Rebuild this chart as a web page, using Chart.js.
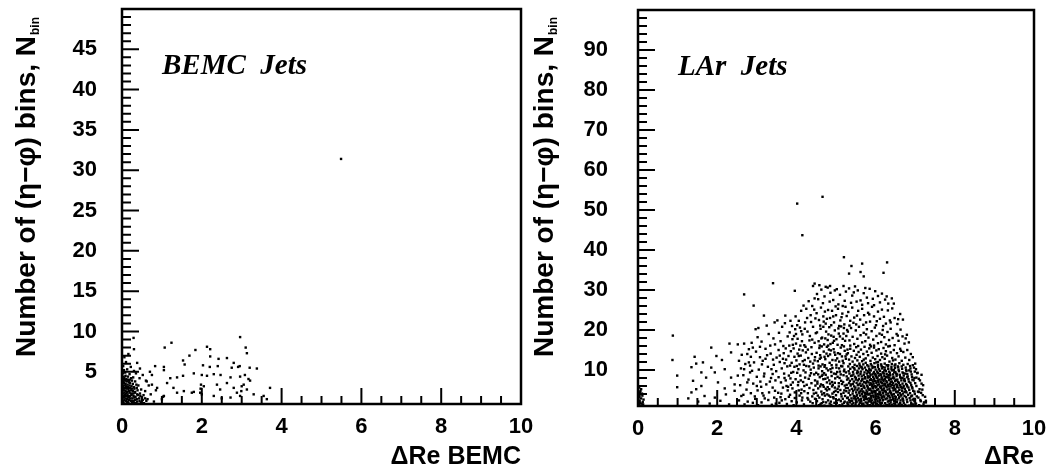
<!DOCTYPE html>
<html>
<head>
<meta charset="utf-8">
<script src="https://cdn.jsdelivr.net/npm/chart.js@4/dist/chart.umd.min.js"></script>
<style>
html, body { margin: 0; padding: 0; background: #fff; }
#wrap { position: relative; width: 1059px; height: 475px; overflow: hidden; }
canvas { position: absolute; top: 0; }
</style>
</head>
<body>
<div id="wrap">
  <canvas id="bemc" width="545" height="475" style="left:0px"></canvas>
  <canvas id="lar" width="539" height="475" style="left:520px"></canvas>
</div>
<script>
// ---- axis ticks ----
const xTickLabels = [0, 2, 4, 6, 8, 10];
const bemcYTickLabels = [5, 10, 15, 20, 25, 30, 35, 40, 45];
const larYTickLabels = [10, 20, 30, 40, 50, 60, 70, 80, 90];

// ---- BEMC jets: [ΔRe, N_bin] ----
const bemcCore = [
  [0.01,1.1],[0.04,1.2],[0.08,1.0],[0.12,1.1],[0.16,1.2],[0.2,1.0],[0.25,1.1],[0.3,1.2],[0.35,1.1],[0.41,1.0],[0.47,1.2],[0.55,1.1],
  [0.02,1.4],[0.06,1.5],[0.1,1.4],[0.14,1.3],[0.18,1.5],[0.23,1.4],[0.28,1.4],[0.33,1.5],[0.38,1.3],[0.44,1.4],[0.52,1.5],[0.61,1.4],
  [0.01,1.7],[0.05,1.8],[0.09,1.7],[0.13,1.6],[0.17,1.8],[0.21,1.7],[0.26,1.7],[0.31,1.8],[0.37,1.6],[0.43,1.7],[0.5,1.8],[0.58,1.7],
  [0.03,2.0],[0.07,2.1],[0.11,2.0],[0.15,1.9],[0.2,2.0],[0.24,2.1],[0.29,2.0],[0.34,1.9],[0.4,2.1],[0.46,2.0],[0.54,2.1],
  [0.02,2.3],[0.06,2.4],[0.1,2.3],[0.14,2.2],[0.19,2.4],[0.23,2.3],[0.28,2.3],[0.32,2.4],[0.38,2.2],[0.45,2.3],
  [0.01,2.6],[0.05,2.7],[0.09,2.6],[0.13,2.5],[0.18,2.6],[0.22,2.7],[0.27,2.6],[0.33,2.5],[0.39,2.7],
  [0.03,2.9],[0.07,3.0],[0.11,2.9],[0.16,2.8],[0.2,3.0],[0.25,2.9],[0.31,2.9],[0.37,3.0],[0.48,2.8],
  [0.02,3.2],[0.06,3.3],[0.1,3.2],[0.15,3.1],[0.19,3.3],[0.24,3.2],[0.3,3.1],[0.41,3.3],
  [0.01,3.5],[0.05,3.6],[0.09,3.5],[0.14,3.4],[0.2,3.6],[0.27,3.5],[0.36,3.4],
  [0.03,3.8],[0.07,3.9],[0.12,3.8],[0.18,3.7],[0.25,3.9],[0.33,3.8],
  [0.02,4.1],[0.06,4.2],[0.11,4.1],[0.17,4.0],[0.23,4.2],
  [0.04,4.4],[0.09,4.5],[0.15,4.4],[0.28,4.3],
  [0.02,4.8],[0.08,4.9],[0.19,4.7],[0.35,4.8],
  [0.05,5.2],[0.13,5.3],[0.3,5.1],
  [0.03,5.7],[0.22,5.6],[0.1,6.2],[0.06,6.8]
];
const bemcSpread = [
  [0.29,9.2],[0.3,7.8],[0.45,5.4],[0.52,4.6],[0.6,3.9],[0.67,3.3],[0.58,2.6],[0.72,2.2],[0.64,1.6],[0.8,1.3],
  [0.7,5.0],[0.85,2.7],[0.38,6.1],[0.16,7.2],[0.44,4.2],
  [1.07,8.0],[1.24,8.6],[1.84,7.7],[2.13,8.1],[2.21,7.8],[2.96,9.3],[3.1,8.0],[3.13,7.3],[1.69,7.0],[2.21,6.9],
  [2.42,6.6],[2.63,6.7],[2.8,6.1],[1.53,6.4],[1.57,5.9],[2.03,5.8],[2.2,5.6],[2.4,5.7],[2.75,5.5],[2.91,5.6],
  [2.95,5.7],[3.2,5.5],[3.38,5.4],[0.83,5.7],[1.05,5.6],[0.75,4.6],[1.05,5.2],[1.21,4.2],[1.38,4.3],[1.53,4.5],
  [1.8,4.8],[2.0,4.6],[2.13,4.5],[2.3,4.7],[2.47,4.6],[2.72,4.3],[2.96,4.4],[3.08,4.6],[3.17,4.1],[0.62,3.8],
  [0.75,3.4],[0.88,3.0],[1.13,3.6],[1.29,3.0],[1.55,2.6],[1.8,2.5],[2.05,3.2],[2.0,2.2],[2.38,3.4],[2.46,2.8],
  [2.63,3.6],[2.8,3.0],[2.88,2.4],[3.05,3.4],[3.13,2.8],[3.21,3.9],[2.3,2.0],[2.72,1.8],[2.96,2.0],[3.3,2.2],
  [3.55,2.0],[3.71,3.0],[1.05,2.0],[1.38,2.4],[1.75,2.4],[2.5,1.7],[3.63,1.6],[1.97,2.9],[1.98,3.4],[1.96,2.4],
  [2.99,2.6],[3.0,3.2],[1.0,1.6],[1.03,1.9],
  [5.49,31.4]
];

// ---- LAr jets: [ΔRe, N_bin] ----
const larAtZero = [
  [0.02,1.3],[0.05,1.8],[0.03,2.4],[0.08,2.9],[0.04,3.5],[0.1,4.1],[0.06,4.8],[0.03,5.6],[0.12,2.0],[0.07,1.1],
  [0.02,3.1],[0.11,3.6],[0.05,4.4],[0.09,1.6],[0.14,2.6],[0.04,2.2],[0.08,5.2],[0.13,1.4]
];
const larSparse = [
  [1.43,13.3],[1.35,10.7],[1.47,11.6],[1.6,9.4],[1.64,11.9],[1.39,7.3],[1.47,5.2],[1.35,4.4],[1.6,6.0],[1.72,8.1],
  [1.85,10.6],[1.98,13.5],[1.85,15.6],[1.94,9.4],[2.02,6.9],[2.12,12.5],[2.19,10.2],[2.31,16.6],[2.35,14.4],[2.35,8.1],
  [2.44,6.4],[2.19,5.4],[1.68,3.5],[1.94,3.1],[2.22,3.9],[2.52,16.4],[2.68,16.6],[2.55,12.3],[2.68,10.2],[2.76,14.0],
  [2.52,8.6],[2.44,4.8],[2.61,3.5],[2.76,6.9],[2.87,16.8],[2.83,9.4],[2.9,15.6],[2.85,13.3],[2.8,11.9],[1.52,2.1],
  [1.81,1.6],[2.08,2.3],[2.3,1.4],[1.27,2.9],
  [2.97,20.2],[3.04,20.5],[3.02,18.2],[3.3,19.0],[3.45,21.9],[3.12,17.1],[3.22,15.3],[2.98,14.6],[3.08,13.2],[3.35,14.1],
  [3.46,16.4],[2.62,13.8],[2.71,11.5],[2.93,11.9],[3.15,12.3],[3.28,10.8],[3.41,12.6],[3.05,10.1],[2.88,9.8],[2.66,8.7],
  [2.79,7.6],[3.0,8.3],[3.19,9.1],[3.36,8.0],[3.49,9.7],[2.58,6.2],[2.74,5.1],[2.91,6.6],[3.09,7.1],[3.24,6.4],
  [3.4,5.6],[3.47,7.4],[2.66,3.8],[2.85,4.2],[3.02,4.9],[3.17,3.6],[3.31,4.4],[3.44,3.1],[2.55,2.4],[2.77,2.1],
  [2.96,2.8],[3.12,1.9],[3.29,2.5],[3.48,1.6],[2.69,1.4],[3.03,1.2],[3.38,1.3],[2.83,11.1],[3.13,11.4],[3.26,13.7],
  [3.43,11.3],[3.33,7.1],[3.11,5.8],[2.95,3.4],[3.2,2.9],[3.46,4.8],[3.37,10.2],[3.08,15.8],[3.42,17.9],[3.25,21.1],
  [2.8,15.2],[3.18,8.4],[3.5,13.1],[2.6,10.4],[3.0,6.0],[3.34,16.1],[3.14,4.2],[2.9,1.8],[3.4,9.0],[3.22,12.8]
];
const larMid = [
  [3.52,22.4],[3.64,20.8],[3.72,23.6],[3.71,21.7],[3.83,19.4],[3.97,20.2],[3.99,19.0],[4.06,22.3],[4.12,24.8],[4.18,26.1],
  [4.25,25.3],[4.31,27.2],[4.4,26.0],[4.46,27.9],[4.36,23.7],[4.22,21.9],[4.09,20.6],[3.9,17.7],[3.78,18.4],[3.6,17.2],
  [3.55,15.0],[3.68,14.2],[3.82,16.1],[3.93,15.4],[4.03,17.8],[4.15,18.9],[4.28,19.6],[4.42,20.8],[4.48,22.9],[4.33,17.4],
  [4.2,16.2],[4.07,15.1],[3.95,13.3],[3.86,14.7],[3.74,12.6],[3.58,12.0],[3.63,10.4],[3.77,10.9],[3.88,11.8],[4.0,12.4],
  [4.11,13.6],[4.24,14.4],[4.38,15.7],[4.47,13.2],[4.35,12.1],[4.19,11.3],[4.05,10.2],[3.92,9.5],[3.81,8.6],[3.69,9.1],
  [3.55,8.2],[3.61,6.9],[3.73,7.4],[3.86,6.3],[3.98,7.7],[4.1,8.6],[4.23,9.4],[4.36,10.1],[4.45,8.9],[4.31,7.8],
  [4.17,7.0],[4.04,6.2],[3.9,5.4],[3.78,4.9],[3.66,5.6],[3.54,4.3],[3.6,3.2],[3.72,2.7],[3.84,3.8],[3.96,4.4],
  [4.08,3.6],[4.2,4.7],[4.33,5.5],[4.44,4.1],[4.28,3.0],[4.14,2.4],[4.01,1.9],[3.88,2.2],[3.76,1.5],[3.57,1.8],
  [3.93,1.2],[4.19,1.4],[4.41,1.7],[4.47,2.8],[4.26,6.3],[4.13,5.1],[3.95,10.8],[4.42,11.6],[4.3,13.0],[4.16,14.9],
  [3.8,13.5],[3.67,16.0],[4.08,11.4],[3.85,7.9],[4.38,6.7],[4.22,8.1],[4.02,9.3],[3.75,6.0],[4.46,16.8],[4.34,18.5],
  [4.12,19.7],[4.27,23.0],[4.45,25.1],[3.98,23.4],[3.89,21.0],[4.39,14.0],[4.25,11.0],[3.58,13.6],[3.99,16.6],[4.15,3.1],
  [3.81,3.3],[4.35,2.1],[4.06,4.9],[3.7,11.7],[4.21,12.5],[4.44,10.6],[4.1,16.1],[3.94,18.5],[4.49,19.2],[4.18,9.9],
  [3.63,2.4],[4.29,4.2],[4.4,3.4],[3.91,6.9],[4.03,14.1],[4.48,6.1],[4.37,9.2],[4.11,7.4],
  [3.62,4.1],[3.79,5.8],[3.96,3.0],[4.12,4.2],[4.3,2.6],[4.43,5.0],[3.7,8.0],[3.87,9.3],[4.05,7.0],[4.2,6.0],
  [4.34,8.6],[4.47,7.4],[3.66,12.8],[3.84,11.1],[4.01,11.0],[4.16,12.2],[4.32,10.9],[4.46,12.4],[3.73,15.4],[3.91,16.3],
  [4.06,13.5],[4.23,15.8],[4.4,17.6],[3.85,22.3],[4.02,21.2],[4.21,20.3],[4.37,22.0],[4.14,17.2],[3.56,19.3],[4.29,15.1],
  [4.52,29.0],[4.58,31.2],[4.63,30.1],[4.71,28.4],[4.79,30.6],[4.86,29.3],[4.93,27.5],[5.02,30.2],[5.1,28.8],[5.19,31.0],
  [5.25,29.6],[4.67,26.7],[4.84,27.1],[5.06,26.4],[5.22,27.3],[4.55,27.7],[4.97,29.9],
  [4.51,24.2],[4.57,22.5],[4.62,25.6],[4.68,23.4],[4.74,21.6],[4.8,25.0],[4.85,23.0],[4.9,24.8],[4.95,21.9],[5.0,23.7],
  [5.05,25.3],[5.11,22.4],[5.16,24.1],[5.21,21.4],[5.27,23.5],[4.6,21.1],[4.77,22.8],[4.88,21.2],[5.08,21.0],[5.24,25.8],
  [4.99,25.9],[4.72,24.6],[5.14,23.2],[4.69,22.1],[4.93,23.4],[5.17,26.0],
  [4.52,19.4],[4.56,17.2],[4.61,20.3],[4.65,18.1],[4.7,16.4],[4.75,19.6],[4.79,17.5],[4.83,20.7],[4.88,18.6],[4.92,16.8],
  [4.97,19.9],[5.01,17.7],[5.06,20.4],[5.1,18.4],[5.15,16.2],[5.19,19.1],[5.23,17.3],[5.28,20.0],[4.59,16.1],[4.68,20.8],
  [4.86,16.5],[5.04,16.3],[5.13,20.9],[5.26,18.5],[4.81,18.9],[4.95,17.3],[4.73,17.9],[5.17,17.8],
  [4.63,17.9],[4.8,16.1],[4.94,18.3],[5.07,19.1],[5.2,20.5],
  [4.51,14.3],[4.54,12.2],[4.58,15.5],[4.62,13.1],[4.66,11.4],[4.69,14.6],[4.73,12.7],[4.77,15.8],[4.8,13.5],[4.84,11.8],
  [4.87,14.9],[4.91,12.5],[4.94,15.2],[4.98,13.8],[5.01,11.3],[5.05,14.2],[5.08,12.1],[5.12,15.6],[5.15,13.4],[5.19,11.7],
  [5.22,14.8],[5.25,12.8],[5.29,15.1],[4.56,11.1],[4.64,15.9],[4.71,13.3],[4.82,15.1],[4.89,11.2],[4.96,14.4],[5.03,12.9],
  [5.1,14.0],[5.17,12.3],[5.27,13.9],[4.6,13.7],[4.76,14.1],[5.2,15.9],
  [4.59,12.8],[4.72,11.2],[4.85,13.9],[4.99,12.4],[5.13,11.0],[5.24,13.4],
  [4.5,9.3],[4.53,7.1],[4.56,10.4],[4.59,8.2],[4.62,6.4],[4.65,9.7],[4.68,7.7],[4.71,10.8],[4.74,8.8],[4.77,6.9],
  [4.8,9.9],[4.83,7.4],[4.86,10.2],[4.89,8.5],[4.92,6.3],[4.95,9.1],[4.98,7.9],[5.01,10.6],[5.04,8.3],[5.07,6.7],
  [5.1,9.6],[5.13,7.3],[5.16,10.9],[5.19,8.7],[5.22,6.1],[5.25,9.4],[5.28,7.6],[4.55,8.9],[4.61,10.9],[4.67,6.2],
  [4.73,7.8],[4.79,8.1],[4.85,6.6],[4.91,10.5],[4.97,6.8],[5.03,9.5],[5.09,8.0],[5.15,6.5],[5.21,10.1],[5.27,8.4],
  [4.64,8.5],[4.88,9.5],[5.12,8.9],[4.7,9.2],[5.18,7.0],
  [4.53,6.6],[4.66,8.8],[4.76,10.4],[4.9,7.0],[5.0,9.0],[5.08,10.4],[5.2,9.7],[5.27,6.3],
  [4.5,4.3],[4.52,2.2],[4.55,5.4],[4.58,3.1],[4.61,1.5],[4.63,4.6],[4.66,2.7],[4.69,5.8],[4.72,3.6],[4.75,1.9],
  [4.77,4.9],[4.8,2.4],[4.83,5.2],[4.86,3.3],[4.88,1.3],[4.91,4.1],[4.94,2.9],[4.97,5.6],[5.0,3.7],[5.02,1.7],
  [5.05,4.5],[5.08,2.6],[5.11,5.0],[5.14,3.4],[5.16,1.4],[5.19,4.3],[5.22,2.1],[5.25,5.5],[5.28,3.0],[4.57,1.2],
  [4.65,3.9],[4.71,1.1],[4.78,3.9],[4.84,1.6],[4.9,5.9],[4.96,1.8],[5.03,2.4],[5.09,1.2],[5.13,4.0],[5.2,1.8],
  [5.26,4.7],[4.6,5.9],[4.74,5.3],[4.82,3.6],[4.99,4.8],[5.07,5.9],[5.17,2.8],[5.23,3.5],[4.68,2.0],[4.93,3.2],
  [4.54,3.6],[4.64,1.7],[4.7,4.2],[4.79,5.7],[4.87,2.1],[4.95,4.5],[5.04,5.3],[5.12,2.2],[5.21,4.9],[5.29,1.9]
];
const larUpper = [
  [5.33,30.4],[5.41,28.6],[5.48,30.9],[5.55,29.9],[5.62,27.4],[5.7,29.2],[5.78,28.1],[5.85,30.3],[5.93,27.8],[5.99,29.7],
  [6.06,28.5],[6.16,29.1],[6.24,27.6],[6.32,26.6],[6.41,27.9],[6.46,26.6],[5.38,26.8],[5.52,27.1],[5.66,26.3],[5.81,26.7],
  [5.96,26.2],[6.11,26.9],[6.28,28.4],[5.45,29.4],[5.74,30.5],
  [5.31,24.5],[5.36,22.3],[5.41,25.6],[5.46,23.1],[5.51,21.4],[5.56,24.8],[5.61,22.6],[5.66,25.3],[5.71,23.7],[5.76,21.9],
  [5.81,24.3],[5.86,22.1],[5.91,25.8],[5.96,23.4],[6.01,21.2],[6.06,24.6],[6.11,22.8],[6.16,25.1],[6.21,23.3],[6.26,21.6],
  [6.31,24.9],[6.36,22.4],[6.42,25.4],[6.48,23.0],[6.55,21.5],[6.62,24.0],[6.69,22.6],[5.34,21.1],[5.53,23.6],[5.69,21.3],
  [5.84,23.9],[6.03,22.2],[6.19,21.0],[6.38,21.9],[6.57,22.7],[5.44,21.8],
  [5.3,19.6],[5.34,17.4],[5.38,20.5],[5.42,18.3],[5.46,16.5],[5.5,19.9],[5.54,17.8],[5.58,20.8],[5.62,18.7],[5.66,16.9],
  [5.7,19.3],[5.74,17.2],[5.78,20.2],[5.82,18.1],[5.86,16.3],[5.9,19.7],[5.94,17.6],[5.98,20.6],[6.02,18.5],[6.06,16.7],
  [6.1,19.1],[6.14,17.0],[6.18,20.0],[6.22,18.2],[6.26,16.4],[6.3,19.5],[6.34,17.5],[6.38,20.3],[6.43,18.0],[6.48,16.2],
  [6.53,19.0],[6.58,17.3],[6.63,20.1],[6.68,18.4],[6.73,16.6],[6.79,18.8],[6.84,16.9],[5.36,16.1],[5.56,16.0],[5.76,18.9],
  [5.96,16.1],[6.16,18.8],[6.36,16.0],[6.56,18.6],[6.76,17.9],
  [5.3,14.2],[5.33,12.6],[5.36,15.3],[5.39,13.4],[5.42,12.1],[5.45,14.8],[5.48,13.0],[5.51,15.7],[5.54,12.4],[5.57,14.5],
  [5.6,13.3],[5.63,15.1],[5.66,12.2],[5.69,14.0],[5.72,15.8],[5.75,12.9],[5.78,14.6],[5.81,13.7],[5.84,15.4],[5.87,12.3],
  [5.9,14.3],[5.93,13.1],[5.96,15.6],[5.99,12.7],[6.02,14.9],[6.05,13.5],[6.08,15.2],[6.11,12.5],[6.14,14.1],[6.17,13.2],
  [6.2,15.5],[6.23,12.8],[6.26,14.7],[6.29,13.6],[6.32,15.9],[6.35,12.1],[6.38,14.4],[6.42,13.0],[6.46,15.0],[6.5,12.6],
  [6.54,14.2],[6.58,13.4],[6.62,15.3],[6.66,12.3],[6.7,14.5],[6.75,13.1],[6.8,15.0],[6.85,12.5],[6.89,14.0],[5.52,13.8],
  [5.7,12.6],[5.88,15.9],[6.06,12.0],[6.24,13.9],[6.44,12.4],[6.64,14.8]
];
const larCore = [
  [5.31,1.2],[5.4,1.4],[5.47,1.1],[5.58,1.3],[5.66,1.5],[5.72,1.1],[5.8,1.3],[5.86,1.2],[5.93,1.5],[5.99,1.0],[6.07,1.3],[6.13,1.4],[6.2,1.1],[6.27,1.2],[6.35,1.5],[6.41,1.3],[6.5,1.1],[6.58,1.4],[6.66,1.2],[6.75,1.3],[6.84,1.1],[6.95,1.4],[7.1,1.2],
  [5.35,1.9],[5.44,1.7],[5.52,2.0],[5.6,1.8],[5.69,1.6],[5.75,1.9],[5.82,2.1],[5.9,1.7],[5.96,1.9],[6.03,1.6],[6.1,2.0],[6.16,1.8],[6.24,1.7],[6.31,2.1],[6.38,1.9],[6.46,1.6],[6.54,2.0],[6.62,1.8],[6.71,1.7],[6.8,2.0],[6.9,1.8],[7.02,1.6],[7.22,1.9],
  [5.33,2.5],[5.41,2.3],[5.5,2.6],[5.57,2.4],[5.64,2.2],[5.71,2.5],[5.78,2.7],[5.84,2.3],[5.91,2.4],[5.98,2.6],[6.05,2.2],[6.11,2.5],[6.18,2.4],[6.25,2.7],[6.33,2.3],[6.4,2.5],[6.47,2.2],[6.55,2.6],[6.63,2.4],[6.7,2.3],[6.79,2.6],[6.88,2.4],[6.98,2.2],[7.13,2.5],[7.27,2.3],
  [5.3,3.1],[5.39,2.9],[5.48,3.2],[5.55,3.0],[5.63,2.8],[5.7,3.1],[5.76,3.3],[5.83,2.9],[5.89,3.0],[5.95,3.2],[6.02,2.8],[6.08,3.1],[6.15,3.0],[6.22,3.3],[6.29,2.9],[6.36,3.1],[6.44,2.8],[6.51,3.2],[6.59,3.0],[6.68,2.9],[6.77,3.2],[6.86,3.0],[6.97,2.8],[7.08,3.1],
  [5.36,3.7],[5.45,3.5],[5.53,3.8],[5.61,3.6],[5.68,3.4],[5.74,3.7],[5.81,3.9],[5.88,3.5],[5.94,3.6],[6.0,3.8],[6.06,3.4],[6.13,3.7],[6.2,3.6],[6.27,3.9],[6.34,3.5],[6.42,3.7],[6.49,3.4],[6.57,3.8],[6.65,3.6],[6.73,3.5],[6.82,3.8],[6.92,3.6],[7.04,3.4],[7.19,3.7],
  [5.32,4.3],[5.42,4.1],[5.51,4.4],[5.59,4.2],[5.66,4.0],[5.73,4.3],[5.79,4.5],[5.86,4.1],[5.92,4.2],[5.99,4.4],[6.05,4.0],[6.12,4.3],[6.19,4.2],[6.26,4.5],[6.32,4.1],[6.39,4.3],[6.46,4.0],[6.53,4.4],[6.61,4.2],[6.69,4.1],[6.78,4.4],[6.87,4.2],[6.99,4.0],[7.15,4.3],
  [5.34,4.9],[5.43,4.7],[5.54,5.0],[5.62,4.8],[5.69,4.6],[5.77,4.9],[5.84,5.1],[5.9,4.7],[5.97,4.8],[6.04,5.0],[6.1,4.6],[6.17,4.9],[6.23,4.8],[6.3,5.1],[6.37,4.7],[6.45,4.9],[6.52,4.6],[6.6,5.0],[6.67,4.8],[6.76,4.7],[6.85,5.0],[6.95,4.8],[7.07,4.6],
  [5.3,5.5],[5.4,5.3],[5.49,5.6],[5.57,5.4],[5.65,5.2],[5.72,5.5],[5.8,5.7],[5.87,5.3],[5.93,5.4],[6.0,5.6],[6.07,5.2],[6.14,5.5],[6.21,5.4],[6.28,5.7],[6.35,5.3],[6.43,5.5],[6.5,5.2],[6.58,5.6],[6.66,5.4],[6.74,5.3],[6.83,5.6],[6.93,5.4],[7.11,5.2],
  [5.37,6.1],[5.46,5.9],[5.55,6.2],[5.63,6.0],[5.7,5.8],[5.78,6.1],[5.85,6.3],[5.91,5.9],[5.98,6.0],[6.05,6.2],[6.11,5.8],[6.18,6.1],[6.25,6.0],[6.31,6.3],[6.38,5.9],[6.46,6.1],[6.54,5.8],[6.62,6.2],[6.71,6.0],[6.8,5.9],[6.9,6.2],[7.03,6.0],
  [5.33,6.7],[5.43,6.5],[5.52,6.8],[5.6,6.6],[5.67,6.4],[5.75,6.7],[5.82,6.9],[5.89,6.5],[5.95,6.6],[6.02,6.8],[6.09,6.4],[6.16,6.7],[6.22,6.6],[6.29,6.9],[6.36,6.5],[6.44,6.7],[6.51,6.4],[6.59,6.8],[6.68,6.6],[6.77,6.5],[6.88,6.8],[7.16,6.6],
  [5.35,7.3],[5.45,7.1],[5.56,7.4],[5.64,7.2],[5.71,7.0],[5.79,7.3],[5.86,7.5],[5.93,7.1],[6.0,7.2],[6.06,7.4],[6.13,7.0],[6.2,7.3],[6.27,7.2],[6.34,7.5],[6.41,7.1],[6.49,7.3],[6.57,7.0],[6.65,7.4],[6.74,7.2],[6.84,7.1],[6.96,7.4],
  [5.31,7.9],[5.41,7.7],[5.5,8.0],[5.58,7.8],[5.66,7.6],[5.74,7.9],[5.81,8.1],[5.88,7.7],[5.96,7.8],[6.03,8.0],[6.1,7.6],[6.17,7.9],[6.24,7.8],[6.32,8.1],[6.39,7.7],[6.47,7.9],[6.55,7.6],[6.64,8.0],[6.73,7.8],[6.83,7.7],[6.98,8.0],[7.09,7.8],
  [5.38,8.5],[5.48,8.3],[5.57,8.6],[5.65,8.4],[5.73,8.2],[5.8,8.5],[5.87,8.7],[5.94,8.3],[6.01,8.4],[6.08,8.6],[6.15,8.2],[6.22,8.5],[6.3,8.4],[6.37,8.7],[6.45,8.3],[6.53,8.5],[6.62,8.2],[6.71,8.6],[6.81,8.4],[6.92,8.3],
  [5.34,9.1],[5.44,8.9],[5.53,9.2],[5.62,9.0],[5.7,8.8],[5.78,9.1],[5.85,9.3],[5.92,8.9],[5.99,9.0],[6.06,9.2],[6.14,8.8],[6.21,9.1],[6.28,9.0],[6.36,9.3],[6.44,8.9],[6.52,9.1],[6.61,8.8],[6.7,9.2],[6.8,9.0],[6.91,8.9],[7.05,9.2],
  [5.32,9.7],[5.43,9.5],[5.54,9.8],[5.63,9.6],[5.72,9.4],[5.8,9.7],[5.88,9.9],[5.96,9.5],[6.04,9.6],[6.11,9.8],[6.19,9.4],[6.26,9.7],[6.34,9.6],[6.42,9.9],[6.5,9.5],[6.59,9.7],[6.68,9.4],[6.78,9.8],[6.89,9.6],
  [5.36,10.3],[5.47,10.1],[5.58,10.4],[5.67,10.2],[5.76,10.0],[5.84,10.3],[5.92,10.5],[6.0,10.1],[6.08,10.2],[6.16,10.4],[6.24,10.0],[6.32,10.3],[6.4,10.2],[6.49,10.5],[6.58,10.1],[6.67,10.3],[6.77,10.0],[6.88,10.4],[7.02,10.2],
  [5.31,10.9],[5.42,10.7],[5.53,11.0],[5.64,10.8],[5.73,10.6],[5.82,10.9],[5.9,11.1],[5.98,10.7],[6.06,10.8],[6.15,11.0],[6.23,10.6],[6.31,10.9],[6.4,10.8],[6.48,11.1],[6.57,10.7],[6.66,10.9],[6.76,10.6],[6.87,11.0],
  [5.35,11.5],[5.47,11.3],[5.59,11.6],[5.69,11.4],[5.79,11.2],[5.88,11.5],[5.97,11.7],[6.06,11.3],[6.14,11.4],[6.23,11.6],[6.32,11.2],[6.41,11.5],[6.5,11.4],[6.6,11.7],[6.7,11.3],[6.81,11.5],[6.94,11.2],
  [5.62,2.0],[5.74,2.8],[5.88,2.1],[6.01,3.4],[6.19,2.6],[6.31,3.5],[6.45,2.7],[6.6,3.3],[5.67,4.6],[5.83,3.9],
  [5.96,4.6],[6.09,3.9],[6.24,4.7],[6.4,3.9],[6.56,4.6],[5.7,5.9],[5.85,5.0],[6.02,5.8],[6.16,5.1],[6.33,5.9],
  [6.48,5.1],[6.64,5.8],[5.77,7.0],[5.92,6.3],[6.07,7.0],[6.23,6.3],[6.38,7.0],[6.55,6.3],[5.73,8.0],[5.9,7.5],
  [6.05,8.1],[6.2,7.5],[6.35,8.1],[6.52,7.5],[6.68,8.0],[6.0,8.8],[6.18,9.4],[6.33,8.7],[6.47,9.4],[5.82,9.5],
  [5.29,1.6],[5.37,2.2],[5.45,2.9],[5.52,3.5],[5.59,4.5],[5.47,5.1],[5.38,6.4],[5.5,7.6],[5.41,8.6],[5.56,9.4],
  [5.46,10.5],[5.6,11.1],[5.68,1.2],[5.79,1.7],[5.73,3.5],[5.86,2.6],[5.78,4.0],[5.91,4.4],[5.81,5.4],[5.94,5.8],
  [5.87,6.7],[5.97,7.3],[5.85,8.3],[5.95,9.2],[5.86,10.0],[5.94,10.8],[6.04,1.1],[6.12,1.7],[6.07,2.9],[6.16,3.3],
  [6.1,4.4],[6.2,4.9],[6.13,5.9],[6.24,6.5],[6.15,7.6],[6.26,8.2],[6.12,9.0],[6.22,9.9],[6.18,10.7],[6.3,1.3],
  [6.37,2.4],[6.43,3.3],[6.36,4.5],[6.47,5.6],[6.41,6.3],[6.5,7.2],[6.43,8.0],[6.54,8.9],[6.46,10.0],[6.56,10.9],
  [6.62,1.6],[6.69,2.7],[6.64,3.8],[6.73,4.5],[6.7,5.6],[6.79,6.2],[6.72,7.4],[6.8,8.2],[6.75,9.1],[6.85,9.9],
  [6.9,1.4],[6.94,2.6],[6.9,3.4],[6.98,4.6],[6.92,5.7],[7.0,6.7],[6.93,7.6],[6.99,9.6],[5.6,2.6],[5.67,7.7],
  [5.57,6.3],[5.65,10.6],[6.28,11.2],[5.75,11.8],[6.02,11.9]
];
const larEdge = [
  [7.21,1.4],[7.25,3.3],[7.18,5.1],[7.12,7.4],[7.06,9.3],[7.0,11.6],[6.94,13.2],[7.14,2.2],[7.09,4.5],[7.2,6.2],
  [7.03,8.1],[6.97,10.6],[7.27,1.9],[7.16,8.8]
];
const larOutliers = [
  [4.02,51.6],[4.66,53.3],[4.15,43.7],[5.2,38.2],[5.39,36.0],[5.33,34.1],[5.66,36.6],[5.62,34.5],[5.7,33.4],[6.29,36.9],
  [6.2,34.3],[3.41,31.7],[2.68,28.9],[2.92,26.1],[3.18,23.6],[3.96,29.8],[4.46,31.6],[4.42,31.0],[4.74,30.8],[4.85,31.0],
  [0.88,18.6],[0.87,12.5],[0.99,8.6],[0.99,5.7]
];

const SANS = '"Liberation Sans", Arial, sans-serif';
const SERIF = '"Liberation Serif", "Times New Roman", serif';

// Frame, inward tick marks, rotated y title and the panel caption
const framePlugin = {
  id: 'frame',
  afterDatasetsDraw(chart, args, o) {
    const { ctx, chartArea: a, scales: { x, y } } = chart;
    ctx.save();
    ctx.strokeStyle = '#000';
    ctx.lineWidth = 2;
    ctx.beginPath();
    x.ticks.forEach(t => {
      const px = x.getPixelForValue(t.value);
      const len = t.value % 2 === 0 ? 16 : 8;
      ctx.moveTo(px, a.bottom);
      ctx.lineTo(px, a.bottom - len);
    });
    y.ticks.forEach(t => {
      if (t.value % o.yMinor !== 0 || t.value === y.min) return;
      const py = y.getPixelForValue(t.value);
      const len = t.value % o.yMajor === 0 ? 17 : 9;
      ctx.moveTo(a.left, py);
      ctx.lineTo(a.left + len, py);
    });
    ctx.stroke();
    ctx.lineWidth = 2.5;
    ctx.strokeRect(a.left, a.top, a.right - a.left, a.bottom - a.top);

    // y-axis title, written bottom to top
    ctx.fillStyle = '#000';
    ctx.translate(o.titleX, o.titleY);
    ctx.rotate(-Math.PI / 2);
    ctx.textAlign = 'left';
    ctx.textBaseline = 'alphabetic';
    ctx.font = 'bold 28px ' + SANS;
    const main = 'Number of (η−φ) bins, N';
    ctx.fillText(main, 0, 0);
    const w = ctx.measureText(main).width;
    ctx.font = 'bold 12px ' + SANS;
    ctx.fillText('bin', w + 1, 4);
    ctx.setTransform(1, 0, 0, 1, 0, 0);

    // panel caption
    ctx.font = 'italic bold 29px ' + SERIF;
    ctx.fillText(o.caption, a.left + 40, a.top + 65);
    ctx.restore();
  }
};

function makeChart(id, points, cfg) {
  return new Chart(document.getElementById(id), {
    type: 'scatter',
    data: {
      datasets: [{
        data: points.map(p => ({ x: p[0], y: p[1] })),
        pointStyle: 'rect',
        pointRadius: 1.7,
        pointBorderWidth: 0,
        backgroundColor: '#000',
        borderColor: '#000'
      }]
    },
    options: {
      responsive: false,
      animation: false,
      events: [],
      layout: { autoPadding: false, padding: cfg.padding },
      plugins: {
        legend: { display: false },
        tooltip: { enabled: false },
        frame: cfg.frame
      },
      scales: {
        x: {
          type: 'linear', min: 0, max: 10,
          grid: { display: false, drawTicks: false },
          border: { display: false },
          afterFit: s => { s.height = cfg.xHeight; s.paddingLeft = 0; s.paddingRight = 0; },
          ticks: {
            stepSize: 0.5, autoSkip: false, maxRotation: 0, padding: 10, color: '#000',
            font: { family: SANS, size: 22, weight: 'bold' },
            callback: v => (xTickLabels.includes(v) ? String(v) : '')
          },
          title: {
            display: true, text: cfg.xTitle, align: 'end', color: '#000',
            font: { family: SANS, size: 25, weight: 'bold' },
            padding: { top: 0, bottom: 3 }
          }
        },
        y: {
          type: 'linear', min: 1, max: cfg.yMax,
          grid: { display: false, drawTicks: false },
          border: { display: false },
          afterFit: s => { s.width = cfg.yWidth; s.paddingTop = 0; s.paddingBottom = 0; },
          ticks: {
            stepSize: cfg.frame.yMinor, autoSkip: false, padding: cfg.yPad, color: '#000',
            font: { family: SANS, size: 22, weight: 'bold' },
            callback: v => (cfg.yLabels.includes(v) ? String(v) : '')
          }
        }
      }
    },
    plugins: [framePlugin]
  });
}

makeChart('bemc', [...bemcCore, ...bemcSpread], {
  padding: { left: 0, right: 24, top: 9, bottom: 0 },
  xHeight: 71, yWidth: 122, yMax: 50, yPad: 25,
  yLabels: bemcYTickLabels, xTitle: 'ΔRe BEMC',
  frame: { yMinor: 1, yMajor: 5, titleX: 35, titleY: 357, caption: 'BEMC  Jets' }
});

makeChart('lar', [...larAtZero, ...larSparse, ...larMid, ...larUpper, ...larCore, ...larEdge, ...larOutliers], {
  padding: { left: 0, right: 25, top: 10, bottom: 0 },
  xHeight: 69, yWidth: 118, yMax: 100, yPad: 30,
  yLabels: larYTickLabels, xTitle: 'ΔRe',
  frame: { yMinor: 2, yMajor: 10, titleX: 33, titleY: 357, caption: 'LAr  Jets' }
});
</script>
</body>
</html>
